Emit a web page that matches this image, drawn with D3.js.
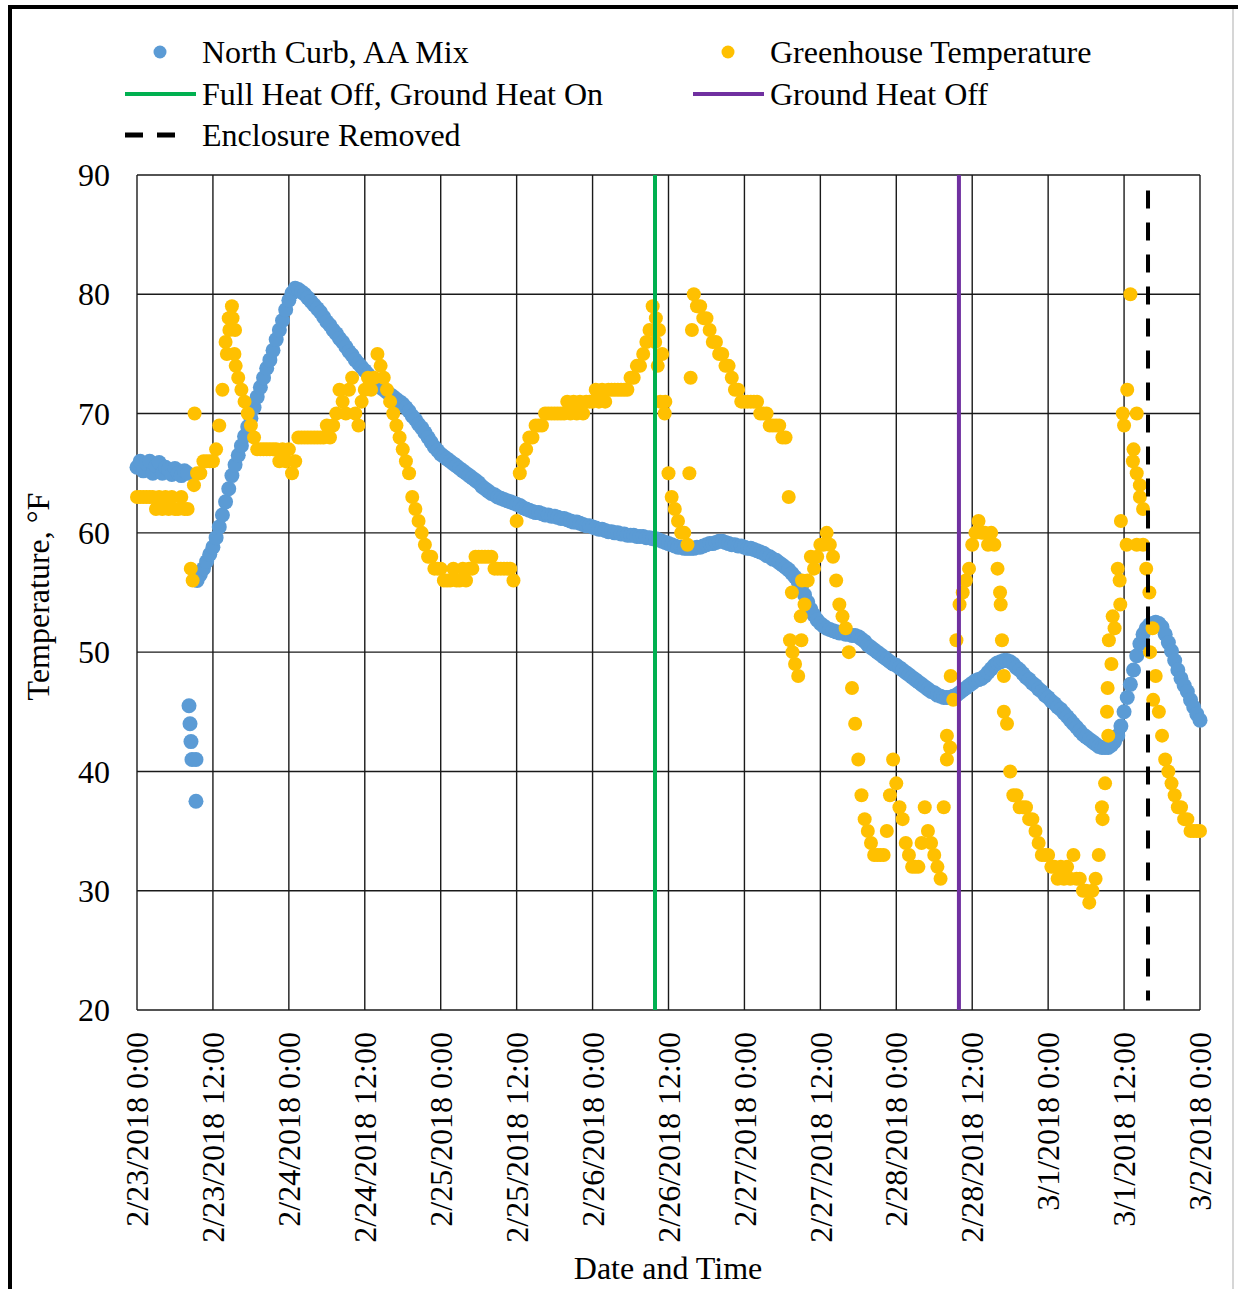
<!DOCTYPE html>
<html>
<head>
<meta charset="utf-8">
<script src="https://cdn.jsdelivr.net/npm/d3@7"></script>
<style>
  body { margin: 0; background: #fff; }
  svg text { font-family: "Liberation Serif", "Times New Roman", serif; fill: #000; }
</style>
</head>
<body>
<div id="chart"></div>
<script>
// Readings every 30 minutes starting 2/23/2018 0:00
const startTime = new Date(2018, 1, 23, 0, 0);
const endTime = new Date(2018, 2, 2, 0, 0);
const stepMinutes = 30;

// North Curb, AA Mix (°F)
const curbTemps = [
  65.5,66.0,65.2,65.8,66.0,65.0,65.6,65.9,65.0,65.5,65.3,64.9,65.4,65.0,64.8,65.2,65.0,null,null,56.0,56.5,57.0,57.6,58.2,
  58.8,59.6,60.5,61.5,62.6,63.7,64.8,65.7,66.5,67.3,68.1,68.9,69.6,70.5,71.4,72.2,73.0,73.8,74.5,75.3,76.2,77.0,77.8,78.7,
  79.5,80.1,80.5,80.4,80.2,80.0,79.7,79.4,79.1,78.8,78.5,78.1,77.7,77.4,77.0,76.7,76.3,76.0,75.6,75.2,74.9,74.5,74.2,73.9,
  73.6,73.3,73.0,72.7,72.5,72.2,72.0,71.8,71.6,71.4,71.2,71.0,70.8,70.5,70.2,69.8,69.5,69.1,68.8,68.4,68.0,67.6,67.2,66.9,
  66.6,66.4,66.2,66.0,65.8,65.6,65.4,65.2,65.0,64.8,64.6,64.4,64.2,63.9,63.7,63.5,63.3,63.2,63.0,62.9,62.8,62.7,62.6,62.5,
  62.4,62.3,62.1,62.0,61.9,61.8,61.7,61.7,61.6,61.5,61.5,61.4,61.4,61.3,61.2,61.2,61.1,61.0,60.9,60.9,60.8,60.7,60.6,60.6,
  60.5,60.4,60.3,60.3,60.2,60.1,60.1,60.0,60.0,59.9,59.9,59.8,59.8,59.8,59.7,59.7,59.7,59.6,59.6,59.5,59.5,59.4,59.3,59.2,
  59.1,59.0,58.9,58.8,58.8,58.7,58.7,58.7,58.7,58.8,58.8,58.9,59.0,59.1,59.1,59.2,59.3,59.3,59.2,59.1,59.0,59.0,58.9,58.9,
  58.8,58.7,58.7,58.6,58.5,58.4,58.3,58.1,58.0,57.8,57.7,57.5,57.3,57.1,56.9,56.6,56.3,55.9,55.4,54.8,54.2,53.6,53.1,52.7,
  52.4,52.2,52.0,51.9,51.8,51.7,51.6,51.6,51.5,51.5,51.4,51.4,51.3,51.1,50.9,50.6,50.4,50.2,50.0,49.8,49.6,49.4,49.2,49.0,
  48.9,48.7,48.5,48.3,48.1,47.9,47.7,47.5,47.3,47.1,46.9,46.7,46.6,46.4,46.3,46.2,46.2,46.2,46.3,46.4,46.6,46.8,47.0,47.2,
  47.4,47.6,47.7,47.8,48.0,48.3,48.6,48.9,49.1,49.2,49.3,49.3,49.2,49.0,48.7,48.5,48.2,47.9,47.7,47.4,47.2,46.9,46.7,46.4,
  46.2,45.9,45.7,45.4,45.2,44.9,44.6,44.3,44.0,43.7,43.4,43.1,42.9,42.7,42.5,42.3,42.1,42.0,42.0,42.0,42.2,42.5,43.0,43.8,
  45.0,46.2,47.3,48.5,49.7,50.7,51.5,52.0,52.3,52.4,52.5,52.4,52.1,51.5,50.8,50.1,49.3,48.5,47.8,47.2,46.7,46.0,45.4,44.8,
  44.3
];

// Greenhouse Temperature (°F)
const greenhouseTemps = [
  63,63,63,63,63,63,62,63,62,63,62,63,62,62,63,62,62,57,64,65,65,66,66,66,
  66,67,69,72,76,78,79,77,73,72,71,70,69,68,67,67,67,67,67,67,67,66,67,66,
  67,65,66,68,68,68,68,68,68,68,68,68,69,68,69,70,72,71,70,72,73,70,69,71,
  72,73,72,73,75,74,73,72,71,70,69,68,67,66,65,63,62,61,60,59,58,58,57,57,
  57,56,56,56,57,56,56,57,56,57,57,58,58,58,58,58,58,57,57,57,57,57,57,56,
  61,65,66,67,68,68,69,69,69,70,70,70,70,70,70,70,71,70,71,70,71,70,71,71,
  71,72,71,72,71,72,72,72,72,72,72,72,73,73,74,74,75,76,77,79,78,77,75,71,
  65,63,62,61,60,60,59,73,80,79,79,78,78,77,76,76,75,75,74,74,73,72,72,71,
  71,71,71,71,71,70,70,70,69,69,69,69,68,68,63,55,49,48,51,54,56,58,57,58,
  59,59,60,59,58,56,54,53,52,50,47,44,41,38,36,35,34,33,33,33,33,35,38,41,
  39,37,36,34,33,32,32,32,34,37,35,34,33,32,31,37,43,42,46,51,54,55,56,57,
  59,60,61,60,60,59,60,59,57,54,48,44,40,38,38,37,37,37,36,36,35,34,33,33,
  33,32,32,31,32,31,32,31,33,31,31,30,30,29,30,31,33,37,39,43,49,52,57,61,
  69,72,80,67,65,63,59,57,55,52,48,45,43,41,40,39,38,37,37,36,36,35,35,35,
  35
];

// Off-schedule readings: [hours after start, °F]
const curbExtra = [[8.22,45.5],[8.38,44.0],[8.53,42.5],[8.69,41.0],[9.32,41.0],[9.32,37.5]];
const greenhouseExtra = [
  [8.8,56],[9.1,70],[14.2,75],[14.6,77],[15.1,78],[15.4,75],[15.6,74],
  [81.9,76],[82.3,74],[82.7,71],[83.4,70],[87.3,65],[87.7,77],
  [103.2,51],[103.6,50],[104.9,53],[105.1,56],
  [128.0,41],[128.6,48],[136.4,55],[136.7,51],[137.0,45],
  [152.6,36],[153.3,45],[153.4,47],[153.6,51],[154.2,53],[155.3,56],[155.4,54],[155.8,70],
  [156.4,59],[157.4,66],[158.0,70],[158.0,59],[158.5,64],[159.0,62],[160.1,50],[160.6,46]
];

// Event markers
const events = [
  {name: "Full Heat Off, Ground Heat On", time: new Date(2018, 1, 26, 9, 52), color: "#00B050", dash: null},
  {name: "Ground Heat Off", time: new Date(2018, 1, 28, 9, 54), color: "#7030A0", dash: null},
  {name: "Enclosure Removed", time: new Date(2018, 2, 1, 15, 47), color: "#000000", dash: "18,14"}
];

const yTicks = [20, 30, 40, 50, 60, 70, 80, 90];

const width = 1238, height = 1289;
const plot = {left: 137, right: 1200, top: 175, bottom: 1010};
const blue = "#5B9BD5", orange = "#FFC000";

const svg = d3.select("#chart").append("svg")
    .attr("width", width)
    .attr("height", height);

const x = d3.scaleTime()
    .domain([startTime, endTime])
    .range([plot.left, plot.right]);

const y = d3.scaleLinear()
    .domain([20, 90])
    .range([plot.bottom, plot.top]);

const fromHours = h => new Date(startTime.getTime() + h * 3600 * 1000);

function toPoints(values, extra) {
  const pts = [];
  values.forEach((v, i) => {
    if (v !== null) pts.push({t: fromHours(i * stepMinutes / 60), v: v});
  });
  extra.forEach(d => pts.push({t: fromHours(d[0]), v: d[1]}));
  return pts;
}

const curbPts = toPoints(curbTemps, curbExtra);
const housePts = toPoints(greenhouseTemps, greenhouseExtra);

// Grid
const xTicks = d3.timeHour.every(12).range(startTime, d3.timeMinute.offset(endTime, 1));
const grid = svg.append("g").attr("stroke", "#1a1a1a").attr("stroke-width", 1.4);
grid.selectAll(".hgrid").data(yTicks).enter().append("line")
    .attr("x1", plot.left).attr("x2", plot.right)
    .attr("y1", d => y(d)).attr("y2", d => y(d));
grid.selectAll(".vgrid").data(xTicks).enter().append("line")
    .attr("x1", d => x(d)).attr("x2", d => x(d))
    .attr("y1", plot.top).attr("y2", plot.bottom);

// Series
svg.append("g").selectAll("circle").data(curbPts).enter().append("circle")
    .attr("cx", d => x(d.t)).attr("cy", d => y(d.v)).attr("r", 7.5)
    .attr("fill", blue);
svg.append("g").selectAll("circle").data(housePts).enter().append("circle")
    .attr("cx", d => x(d.t)).attr("cy", d => y(d.v)).attr("r", 7)
    .attr("fill", orange);

// Event lines
svg.append("g").selectAll("line").data(events).enter().append("line")
    .attr("x1", d => x(d.time)).attr("x2", d => x(d.time))
    .attr("y1", d => d.dash ? y(88.7) : plot.top)
    .attr("y2", d => d.dash ? y(20.8) : plot.bottom)
    .attr("stroke", d => d.color)
    .attr("stroke-width", 4)
    .attr("stroke-dasharray", d => d.dash);

// Axis labels
svg.append("g").selectAll("text").data(yTicks).enter().append("text")
    .attr("x", 110).attr("y", d => y(d)).attr("dy", "0.35em")
    .attr("text-anchor", "end").attr("font-size", 32)
    .text(d => d);

const fmt = d3.timeFormat("%-m/%-d/%Y %-H:%M");
svg.append("g").selectAll("text").data(xTicks).enter().append("text")
    .attr("transform", d => `translate(${x(d)},${plot.bottom + 22}) rotate(-90)`)
    .attr("dy", "0.35em")
    .attr("text-anchor", "end").attr("font-size", 32)
    .text(d => fmt(d));

svg.append("text")
    .attr("transform", `translate(38,${(plot.top + plot.bottom) / 2 + 4}) rotate(-90)`)
    .attr("dy", "0.35em").attr("text-anchor", "middle").attr("font-size", 32)
    .text("Temperature, °F");

svg.append("text")
    .attr("x", 668).attr("y", 1268).attr("dy", "0.35em")
    .attr("text-anchor", "middle").attr("font-size", 32)
    .text("Date and Time");

// Legend
const legendItems = [
  {label: "North Curb, AA Mix", type: "dot", color: blue, lx: 125, ly: 52},
  {label: "Greenhouse Temperature", type: "dot", color: orange, lx: 693, ly: 52},
  {label: events[0].name, type: "line", color: events[0].color, lx: 125, ly: 94},
  {label: events[1].name, type: "line", color: events[1].color, lx: 693, ly: 94},
  {label: events[2].name, type: "line", color: events[2].color, dash: events[2].dash, lx: 125, ly: 135}
];
const legend = svg.append("g").attr("class", "legend");
legendItems.forEach(d => {
  if (d.type === "dot") {
    legend.append("circle").attr("cx", d.lx + 35).attr("cy", d.ly).attr("r", 6.5).attr("fill", d.color);
  } else {
    legend.append("line")
        .attr("x1", d.lx).attr("x2", d.lx + (d.dash ? 58 : 71))
        .attr("y1", d.ly).attr("y2", d.ly)
        .attr("stroke", d.color).attr("stroke-width", d.dash ? 5 : 4)
        .attr("stroke-dasharray", d.dash || null);
  }
  legend.append("text")
      .attr("x", d.lx + 77).attr("y", d.ly).attr("dy", "0.35em")
      .attr("font-size", 32)
      .text(d.label);
});

// Outer frame
svg.append("line").attr("x1", 8).attr("x2", width).attr("y1", 7).attr("y2", 7)
    .attr("stroke", "#000").attr("stroke-width", 4);
svg.append("line").attr("x1", 10).attr("x2", 10).attr("y1", 5).attr("y2", height)
    .attr("stroke", "#000").attr("stroke-width", 4);
svg.append("line").attr("x1", 1233).attr("x2", 1233).attr("y1", 9).attr("y2", height)
    .attr("stroke", "#c8c8c8").attr("stroke-width", 1.5);
</script>
</body>
</html>
